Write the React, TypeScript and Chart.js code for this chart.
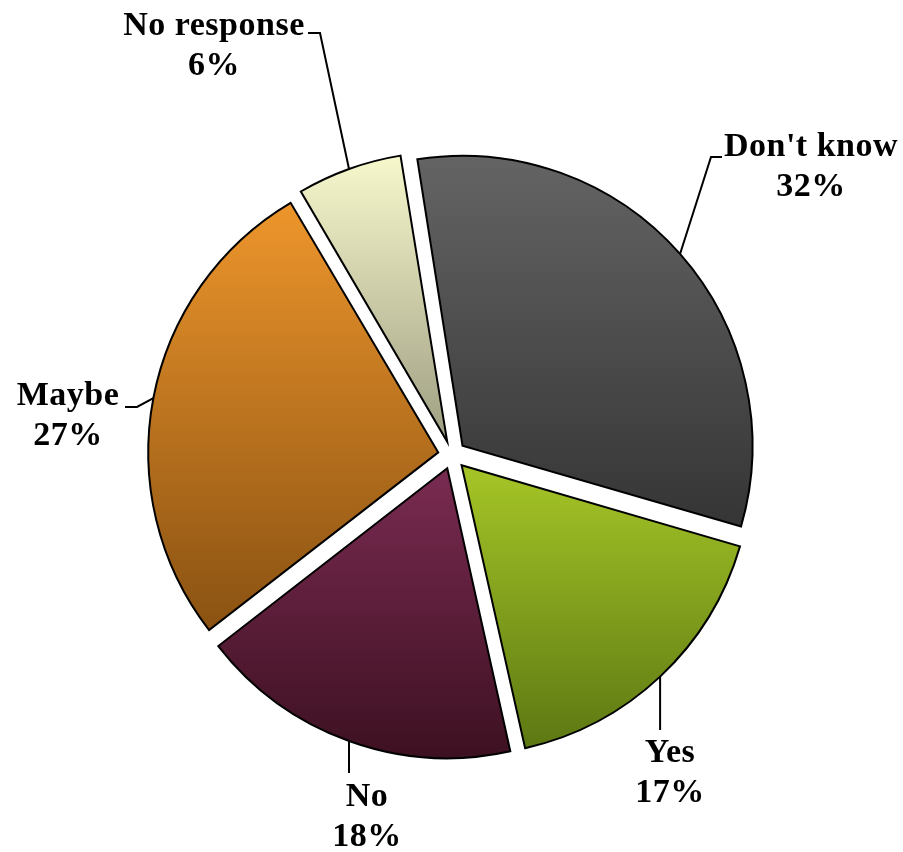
import React, { useEffect, useRef } from "react";
import { Chart, registerables } from "chart.js";

Chart.register(...registerables);

// ---- data ----
const CATEGORIES = ["Don't know", "Yes", "No", "Maybe", "No response"];
const VALUES = [32, 17, 18, 27, 6];
const PERCENT_LABELS = ["32%", "17%", "18%", "27%", "6%"];
const COLOR_TOP = ["#656565", "#a3c326", "#772a4f", "#ee962c", "#fcfcd0"];
const COLOR_BOTTOM = ["#363636", "#5a7512", "#3a0f1f", "#8a5212", "#a2a286"];

// ---- layout ----
const W = 903;
const H = 852;
const RADIUS = 290;
const EXPLODE = 14;
const ROTATION = -9;
const FONT = 'bold 34px "Liberation Serif", "Times New Roman", serif';
const LINE_GAP = 40;
// text centre x, first baseline y, leader elbow/end (null x => use arc point x)
const LABEL_LAYOUT = [
  { x: 811, y: 156, elbow: [711, 157], end: [722, 157] },
  { x: 670, y: 762, elbow: [null, 730], end: null },
  { x: 367, y: 806, elbow: [null, 773], end: null },
  { x: 68, y: 405, elbow: [137, 407], end: [125, 407] },
  { x: 214, y: 35, elbow: [320, 33], end: [308, 33] },
];

const deg = Math.PI / 180;

function sliceAngles(i: number) {
  const total = VALUES.reduce((a, b) => a + b, 0);
  let acc = 0;
  for (let k = 0; k < i; k++) acc += VALUES[k];
  const start = (-90 + ROTATION) * deg;
  const a0 = start + (acc / total) * Math.PI * 2;
  const a1 = a0 + (VALUES[i] / total) * Math.PI * 2;
  return { a0, a1 };
}

function gradientFor(ctx: any) {
  const chart = ctx.chart;
  const area = chart.chartArea;
  const i = ctx.dataIndex ?? 0;
  if (!area) return COLOR_TOP[i];
  const cy = (area.top + area.bottom) / 2;
  const { a0, a1 } = sliceAngles(i);
  const mid = (a0 + a1) / 2;
  const oy = cy + Math.sin(mid) * EXPLODE;
  const ys = [oy, oy + RADIUS * Math.sin(a0), oy + RADIUS * Math.sin(a1)];
  for (const e of [Math.PI / 2, -Math.PI / 2, (3 * Math.PI) / 2, -(3 * Math.PI) / 2]) {
    if (e >= a0 && e <= a1) ys.push(oy + RADIUS * Math.sin(e));
  }
  const yMin = Math.min(...ys);
  const yMax = Math.max(...ys);
  const g = chart.ctx.createLinearGradient(0, yMin, 0, yMax);
  g.addColorStop(0, COLOR_TOP[i]);
  g.addColorStop(1, COLOR_BOTTOM[i]);
  return g;
}

const radiusFixPlugin = {
  id: "radiusFix",
  beforeDatasetsDraw(chart: any) {
    const meta = chart.getDatasetMeta(0);
    meta.data.forEach((arc: any) => {
      const circ = arc.endAngle - arc.startAngle;
      const fix = 1 - Math.sin(Math.min(Math.PI, circ));
      arc.outerRadius = RADIUS - EXPLODE * fix;
    });
  },
};

const labelPlugin = {
  id: "pieLabels",
  afterDatasetsDraw(chart: any) {
    const ctx = chart.ctx;
    const meta = chart.getDatasetMeta(0);
    ctx.save();
    meta.data.forEach((arc: any, i: number) => {
      const mid = (arc.startAngle + arc.endAngle) / 2;
      const px = arc.x + Math.cos(mid) * (EXPLODE + RADIUS);
      const py = arc.y + Math.sin(mid) * (EXPLODE + RADIUS);
      const L = LABEL_LAYOUT[i];
      ctx.strokeStyle = "#000";
      ctx.lineWidth = 2;
      ctx.lineJoin = "miter";
      ctx.beginPath();
      ctx.moveTo(px, py);
      const ex = L.elbow[0] == null ? px : (L.elbow[0] as number);
      ctx.lineTo(ex, L.elbow[1] as number);
      if (L.end) ctx.lineTo(L.end[0], L.end[1]);
      ctx.stroke();

      ctx.fillStyle = "#000";
      ctx.font = FONT;
      (ctx as any).letterSpacing = "0.5px";
      ctx.textAlign = "center";
      ctx.textBaseline = "alphabetic";
      ctx.fillText(CATEGORIES[i], L.x, L.y);
      ctx.fillText(PERCENT_LABELS[i], L.x, L.y + LINE_GAP);
    });
    ctx.restore();
  },
};

export default function App() {
  const ref = useRef<HTMLCanvasElement>(null);
  useEffect(() => {
    if (!ref.current) return;
    const chart = new Chart(ref.current, {
      type: "pie",
      data: {
        labels: CATEGORIES,
        datasets: [
          {
            data: VALUES,
            backgroundColor: gradientFor as any,
            borderColor: "#000",
            borderWidth: 2,
            borderJoinStyle: "miter",
            offset: EXPLODE * 4,
            hoverOffset: 0,
            radius: RADIUS,
            rotation: ROTATION,
          } as any,
        ],
      },
      options: {
        animation: false,
        responsive: false,
        devicePixelRatio: 1,
        events: [],
        layout: { padding: { left: 1, right: 0, top: 58, bottom: 0 } },
        plugins: {
          legend: { display: false },
          tooltip: { enabled: false },
        },
      },
      plugins: [radiusFixPlugin, labelPlugin],
    });
    return () => chart.destroy();
  }, []);
  return (
    <div style={{ position: "absolute", left: 0, top: 0, width: W, height: H, background: "#fff" }}>
      <canvas ref={ref} width={W} height={H} style={{ display: "block" }} />
    </div>
  );
}
